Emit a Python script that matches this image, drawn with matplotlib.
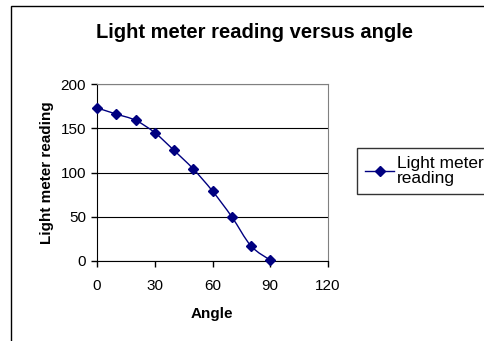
import numpy as np
import matplotlib
matplotlib.use('Agg')
import matplotlib.pyplot as plt
from matplotlib.path import Path
from matplotlib.patches import PathPatch, Rectangle
from matplotlib.lines import Line2D

angles = [0, 10, 20, 30, 40, 50, 60, 70, 80, 90]
readings = [173, 166, 159, 145, 125, 104, 79, 50, 17, 1]

x_ticks = [0, 30, 60, 90, 120]
y_ticks = [0, 50, 100, 150, 200]

navy = '#000080'

plt.rcParams['font.family'] = ['Liberation Sans', 'DejaVu Sans']

fig = plt.figure(figsize=(4.85, 3.41), dpi=100)
fig.patch.set_facecolor('white')

# chart area border (only top and left edges fall inside the image)
top = 1 - 6 / 341
fig.patches.append(Rectangle((11 / 485, -0.2), 1.2, top + 0.2,
                             transform=fig.transFigure, fill=False,
                             edgecolor='black', linewidth=1.0))

ax = fig.add_axes([97 / 485, 1 - 261 / 341, (328 - 97) / 485, (261 - 84) / 341])

# smoothed line (catmull-rom style bezier through the data points)
xs = np.array(angles, dtype=float)
ys = np.array(readings, dtype=float)
verts = [(xs[0], ys[0])]
codes = [Path.MOVETO]
t = 1 / 6
for i in range(len(xs) - 1):
    p0 = (xs[max(i - 1, 0)], ys[max(i - 1, 0)])
    p1 = (xs[i], ys[i])
    p2 = (xs[i + 1], ys[i + 1])
    p3 = (xs[min(i + 2, len(xs) - 1)], ys[min(i + 2, len(xs) - 1)])
    c1 = (p1[0] + (p2[0] - p0[0]) * t, p1[1] + (p2[1] - p0[1]) * t)
    c2 = (p2[0] - (p3[0] - p1[0]) * t, p2[1] - (p3[1] - p1[1]) * t)
    verts += [c1, c2, p2]
    codes += [Path.CURVE4] * 3
ax.add_patch(PathPatch(Path(verts, codes), fill=False, edgecolor=navy, lw=1.0, zorder=3))
ax.plot(angles, readings, linestyle='none', marker='D', markersize=5,
        color=navy, zorder=4, clip_on=False)

ax.set_xlim(0, 120)
ax.set_ylim(0, 200)
ax.set_xticks(x_ticks)
ax.set_yticks(y_ticks)
ax.tick_params(labelsize=11, direction='out', length=4, width=1, colors='black')
ax.tick_params(axis='x', pad=9)
ax.tick_params(axis='y', pad=4)
ax.yaxis.grid(True, color='black', linewidth=0.8)
ax.set_axisbelow(True)
for s in ['top', 'right']:
    ax.spines[s].set_color('#808080')
for s in ['left', 'bottom']:
    ax.spines[s].set_color('black')

ax.set_xlabel('Angle', fontsize=11, fontweight='bold', va='center')
ax.set_ylabel('Light meter reading', fontsize=11, fontweight='bold')
ax.xaxis.set_label_coords(0.497, (261 - 314) / 177)
ax.yaxis.label.set_va('center')
ax.yaxis.set_label_coords((47 - 97) / 231, 0.5)
fig.text(255 / 485, 1 - 32 / 341, 'Light meter reading versus angle',
         ha='center', va='center', fontsize=14.5, fontweight='bold')

handle = Line2D([], [], color=navy, marker='D', markersize=5, lw=1.0)
leg = fig.legend([handle], ['Light meter\nreading'], loc='upper left',
                 bbox_to_anchor=(357 / 485, 1 - 148 / 341), fontsize=12.5,
                 frameon=True, fancybox=False, edgecolor='black',
                 handlelength=1.7, handletextpad=0.15, borderpad=0.45,
                 borderaxespad=0)
leg.get_frame().set_linewidth(1.0)
for txt in leg.get_texts():
    txt.set_linespacing(1.05)

fig.savefig('out.png', dpi=100)
